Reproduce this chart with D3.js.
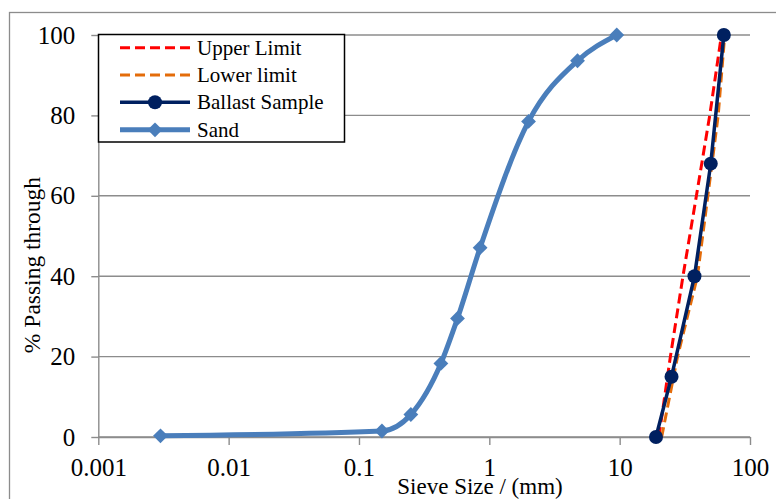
<!DOCTYPE html>
<html lang="en">
<head>
    <meta charset="UTF-8">
    <title>Particle Size Distribution</title>
    <script src="https://d3js.org/d3.v7.min.js"></script>
    <style>
        body { margin: 0; background: #fff; }
    </style>
</head>
<body>
    <div id="chart"></div>

    <script>
        // tick labels
        const xTicks = [0.001, 0.01, 0.1, 1, 10, 100];
        const yTicks = [0, 20, 40, 60, 80, 100];

        // series (sieve size mm, % passing)
        const upperSize = [20, 24.5, 30.6, 38.8, 49.1, 60.4];
        const upperPass = [0, 20, 40, 60, 80, 100];
        const lowerSize = [21, 27.8, 39.5, 47.5, 57, 64];
        const lowerPass = [0, 20, 40, 60, 80, 100];
        const ballastSize = [19, 25, 37.5, 50, 63];
        const ballastPass = [0, 15, 40, 68, 100];
        const sandSize = [0.003, 0.15, 0.25, 0.425, 0.57, 0.85, 2, 4.75, 9.5];
        const sandPass = [0.3, 1.5, 5.6, 18.3, 29.5, 47.1, 78.5, 93.6, 100];

        const seriesNames = ["Upper Limit", "Lower limit", "Ballast Sample", "Sand"];

        const width = 776, height = 499;
        const svg = d3.select("#chart").append("svg")
            .attr("width", width)
            .attr("height", height)
            .attr("font-family", "Liberation Serif");

        // outer chart frame
        svg.append("rect")
            .attr("x", 9.5).attr("y", 12.5)
            .attr("width", 900).attr("height", 600)
            .attr("fill", "none")
            .attr("stroke", "#8c8c8c")
            .attr("stroke-width", 1.3);

        const x = d3.scaleLog().domain([0.001, 100]).range([98.3, 750]);
        const y = d3.scaleLinear().domain([0, 100]).range([437, 35]);

        // gridlines
        svg.append("g").selectAll("line")
            .data(yTicks)
            .join("line")
            .attr("x1", x(0.001)).attr("x2", x(100))
            .attr("y1", d => y(d)).attr("y2", d => y(d))
            .attr("stroke", "#8c8c8c")
            .attr("stroke-width", 1.4);

        // axes
        const xAxis = svg.append("g")
            .attr("transform", `translate(0,${y(0)})`)
            .call(d3.axisBottom(x).tickValues(xTicks)
                .tickFormat(d => String(d))
                .tickSize(8).tickSizeOuter(0).tickPadding(13));

        const yAxis = svg.append("g")
            .attr("transform", `translate(${x(0.001)},0)`)
            .call(d3.axisLeft(y).tickValues(yTicks)
                .tickSize(7).tickSizeOuter(0).tickPadding(16));

        [xAxis, yAxis].forEach(g => {
            g.attr("font-family", "Liberation Serif").attr("font-size", 25);
            g.selectAll("path, line").attr("stroke", "#8c8c8c").attr("stroke-width", 1.4);
            g.selectAll("text").attr("fill", "#000");
        });

        // axis titles
        svg.append("text")
            .attr("x", 480).attr("y", 494)
            .attr("text-anchor", "middle")
            .attr("font-size", 23)
            .text("Sieve Size / (mm)");

        svg.append("text")
            .attr("transform", "translate(39.5,265) rotate(-90)")
            .attr("text-anchor", "middle")
            .attr("font-size", 23.5)
            .text("% Passing through");

        const line = d3.line().x(d => x(d[0])).y(d => y(d[1]));
        const smooth = d3.line().x(d => x(d[0])).y(d => y(d[1])).curve(d3.curveMonotoneX);

        const upper = upperSize.map((s, i) => [s, upperPass[i]]);
        const lower = lowerSize.map((s, i) => [s, lowerPass[i]]);
        const ballast = ballastSize.map((s, i) => [s, ballastPass[i]]);
        const sand = sandSize.map((s, i) => [s, sandPass[i]]);

        const styles = [
            { color: "#ff0000", width: 3, dash: "10,5" },
            { color: "#e46c0a", width: 3, dash: "10,5" },
            { color: "#002060", width: 3.5, dash: null },
            { color: "#4a7ebb", width: 5, dash: null }
        ];

        svg.append("path").datum(upper)
            .attr("d", line).attr("fill", "none")
            .attr("stroke", styles[0].color).attr("stroke-width", styles[0].width)
            .attr("stroke-dasharray", styles[0].dash);

        svg.append("path").datum(lower)
            .attr("d", line).attr("fill", "none")
            .attr("stroke", styles[1].color).attr("stroke-width", styles[1].width)
            .attr("stroke-dasharray", styles[1].dash);

        svg.append("path").datum(ballast)
            .attr("d", line).attr("fill", "none")
            .attr("stroke", styles[2].color).attr("stroke-width", styles[2].width);
        svg.append("g").selectAll("circle")
            .data(ballast)
            .join("circle")
            .attr("cx", d => x(d[0])).attr("cy", d => y(d[1]))
            .attr("r", 7)
            .attr("fill", styles[2].color);

        const diamond = d3.symbol().type(d3.symbolDiamond2).size(140);

        svg.append("path").datum(sand)
            .attr("d", smooth).attr("fill", "none")
            .attr("stroke", styles[3].color).attr("stroke-width", styles[3].width)
            .attr("stroke-linejoin", "round");
        svg.append("g").selectAll("path")
            .data(sand)
            .join("path")
            .attr("transform", d => `translate(${x(d[0])},${y(d[1])})`)
            .attr("d", diamond)
            .attr("fill", styles[3].color);

        // legend
        const legend = svg.append("g");
        legend.append("rect")
            .attr("x", 98.5).attr("y", 34.5)
            .attr("width", 246).attr("height", 107.5)
            .attr("fill", "#fff")
            .attr("stroke", "#000")
            .attr("stroke-width", 1.5);

        const rowY = [47.7, 75, 102.3, 129.8];
        seriesNames.forEach((name, i) => {
            const st = styles[i];
            const ly = rowY[i];
            legend.append("line")
                .attr("x1", 120).attr("x2", 190)
                .attr("y1", ly).attr("y2", ly)
                .attr("stroke", st.color)
                .attr("stroke-width", st.width)
                .attr("stroke-dasharray", st.dash);
            if (i === 2) {
                legend.append("circle").attr("cx", 155).attr("cy", ly).attr("r", 7).attr("fill", st.color);
            }
            if (i === 3) {
                legend.append("path")
                    .attr("transform", `translate(155,${ly})`)
                    .attr("d", diamond).attr("fill", st.color);
            }
            legend.append("text")
                .attr("x", 197).attr("y", ly + 6.8)
                .attr("font-size", 21)
                .text(name);
        });
    </script>
</body>
</html>
